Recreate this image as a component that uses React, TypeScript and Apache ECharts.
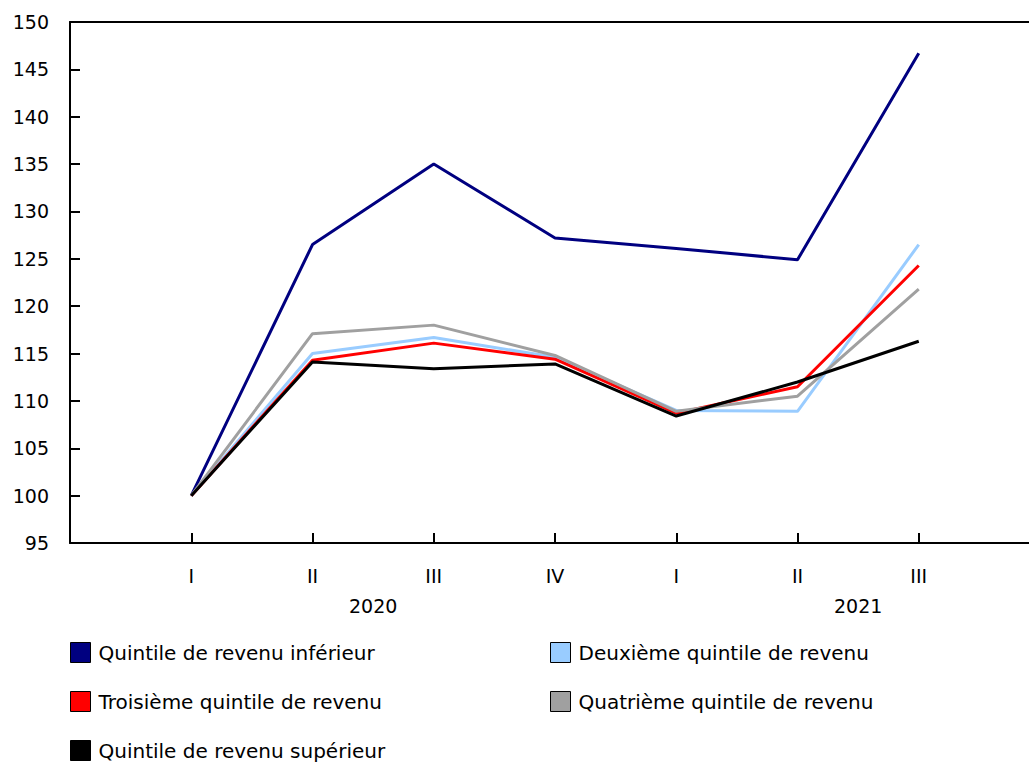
import React, { useEffect, useRef } from "react";
import * as echarts from "echarts";

const quarters = ["I", "II", "III", "IV", "I", "II", "III"];
const years = ["2020", "2021"];
const seriesNames = [
  "Quintile de revenu inférieur",
  "Deuxième quintile de revenu",
  "Troisième quintile de revenu",
  "Quatrième quintile de revenu",
  "Quintile de revenu supérieur",
];
const colors = ["#000080", "#99CCFF", "#FF0000", "#A0A0A0", "#000000"];
const lowest = [100, 126.5, 135.0, 127.2, 126.1, 124.9, 146.7];
const second = [100, 115.0, 116.7, 114.6, 109.0, 108.9, 126.5];
const third = [100, 114.3, 116.1, 114.4, 108.7, 111.5, 124.3];
const fourth = [100, 117.1, 118.0, 114.8, 108.9, 110.5, 121.8];
const highest = [100, 114.1, 113.4, 113.9, 108.4, 112.0, 116.3];
const values = [lowest, second, third, fourth, highest];

const FONT = "DejaVu Sans, Verdana, sans-serif";

export default function App() {
  const ref = useRef<HTMLDivElement>(null);
  useEffect(() => {
    if (!ref.current) return;
    const chart = echarts.init(ref.current, null, { renderer: "svg" });
    const cats = ["", ...quarters, ""];
    // half-step categories for the year labels (centred on each year's 4 quarters)
    const yearCats: string[] = [];
    for (let i = 0; i < cats.length * 2 - 1; i++) yearCats.push("");
    yearCats[5] = years[0];
    yearCats[13] = years[1];

    const axisLine = { show: true, lineStyle: { color: "#000", width: 2 } };
    const legendBase = {
      orient: "vertical",
      top: 642,
      height: 200,
      padding: 0,
      itemWidth: 20,
      itemHeight: 20,
      itemGap: 28,
      icon: "rect",
      itemStyle: { borderColor: "#000", borderWidth: 1 },
      textStyle: { color: "#000", fontFamily: FONT, fontSize: 20, padding: [0, 0, 0, 3] },
    };
    const option: any = {
      animation: false,
      backgroundColor: "#fff",
      grid: { left: 70, top: 22, width: 970, height: 521, containLabel: false },
      xAxis: [
        {
          type: "category",
          data: cats,
          boundaryGap: false,
          position: "bottom",
          axisLine,
          axisTick: { show: true, inside: true, length: 10, interval: 0, lineStyle: { color: "#000", width: 2 } },
          axisLabel: { interval: 0, color: "#000", fontFamily: FONT, fontSize: 19, margin: 23 },
          splitLine: { show: false },
        },
        {
          type: "category",
          data: yearCats,
          boundaryGap: false,
          position: "bottom",
          axisLine: { show: false },
          axisTick: { show: false },
          axisLabel: { interval: 0, color: "#000", fontFamily: FONT, fontSize: 19, margin: 53 },
          splitLine: { show: false },
        },
        {
          type: "category",
          data: cats,
          boundaryGap: false,
          position: "top",
          axisLine,
          axisTick: { show: false },
          axisLabel: { show: false },
          splitLine: { show: false },
        },
      ],
      yAxis: {
        type: "value",
        min: 95,
        max: 150,
        interval: 5,
        axisLine,
        axisTick: { show: true, inside: true, length: 10, lineStyle: { color: "#000", width: 2 } },
        axisLabel: { color: "#000", fontFamily: FONT, fontSize: 19, margin: 21 },
        splitLine: { show: false },
      },
      legend: [
        { ...legendBase, data: [seriesNames[0], seriesNames[2], seriesNames[4]], left: 70 },
        { ...legendBase, data: [seriesNames[1], seriesNames[3]], left: 550 },
      ],
      series: values.map((vals, i) => ({
        name: seriesNames[i],
        type: "line",
        xAxisIndex: 0,
        data: ["-", ...vals, "-"],
        symbol: "none",
        color: colors[i],
        lineStyle: { color: colors[i], width: 3 },
        itemStyle: { color: colors[i] },
        z: 2 + i,
      })),
    };
    chart.setOption(option);
    return () => chart.dispose();
  }, []);
  return (
    <div style={{ position: "absolute", left: 0, top: 0, width: 1029, height: 762, overflow: "hidden" }}>
      <div ref={ref} style={{ width: 1045, height: 762 }} />
    </div>
  );
}
